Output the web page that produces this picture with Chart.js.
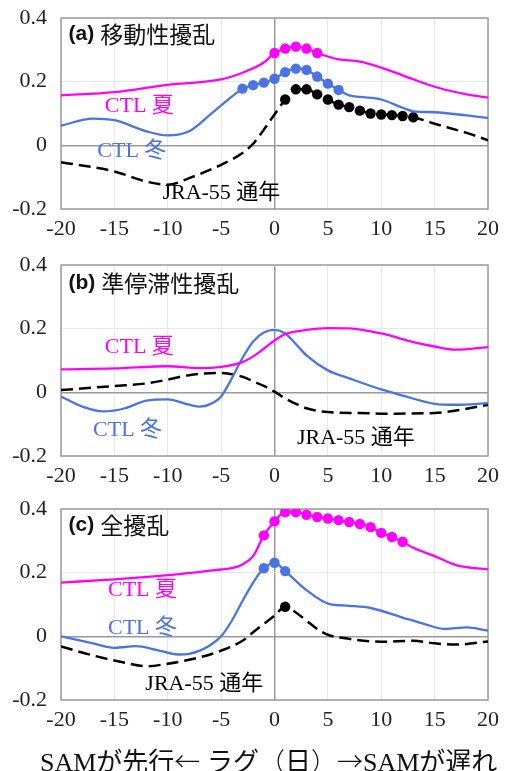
<!DOCTYPE html>
<html>
<head>
<meta charset="utf-8">
<script src="https://cdn.jsdelivr.net/npm/chart.js@4/dist/chart.umd.min.js"></script>
<style>
  body { margin: 0; background: #fff; width: 505px; height: 771px; position: relative; overflow: hidden; }
  canvas { position: absolute; left: 0; }
  #xlabel {
    position: absolute; left: 40px; top: 744px;
    font-family: 'Liberation Serif', 'Noto Sans CJK JP', serif;
    font-size: 26px; color: #111; white-space: pre; line-height: 32px;
  }
  #xlabel .cjk { font-family: 'Noto Sans CJK JP', sans-serif; font-weight: 300; }
</style>
</head>
<body>
<canvas id="panelA" width="505" height="250" style="top:0px"></canvas>
<canvas id="panelB" width="505" height="250" style="top:247px"></canvas>
<canvas id="panelC" width="505" height="250" style="top:491px"></canvas>
<div id="xlabel">SAMが先行<span class="cjk">←</span> ラグ<span class="cjk">（</span>日<span class="cjk">）</span><span class="cjk">→</span>SAMが遅れ</div>
<script>
// (a) 移動性擾乱
const aLagSummer = [-20, -15, -10, -5, -3, -1, 0, 1, 2, 3, 4, 5, 6, 8, 10, 12, 15, 18, 20];
const aSummer = [0.157, 0.167, 0.19, 0.207, 0.228, 0.26, 0.29, 0.304, 0.31, 0.304, 0.29, 0.279, 0.27, 0.263, 0.244, 0.22, 0.184, 0.16, 0.15];
const aSigSummer = [0, 1, 2, 3, 4];
const aLagWinter = [-20, -17, -15, -12, -10, -8, -6, -4, -3, -2, -1, 0, 1, 2, 3, 4, 5, 6, 7, 8, 10, 12, 13, 15, 18, 20];
const aWinter = [0.062, 0.084, 0.079, 0.044, 0.031, 0.044, 0.097, 0.153, 0.178, 0.189, 0.197, 0.209, 0.23, 0.241, 0.237, 0.216, 0.194, 0.174, 0.157, 0.152, 0.144, 0.118, 0.107, 0.104, 0.094, 0.086];
const aSigWinter = [-3, -2, -1, 0, 1, 2, 3, 4, 5, 6];
const aLagJra = [-20, -15, -12, -10, -8, -5, -3, -2, -1, 0, 1, 2, 3, 4, 5, 6, 7, 8, 9, 10, 11, 12, 13, 15, 18, 20];
const aJra = [-0.053, -0.082, -0.114, -0.124, -0.103, -0.061, -0.024, 0.005, 0.049, 0.097, 0.144, 0.176, 0.176, 0.16, 0.144, 0.128, 0.12, 0.109, 0.1, 0.097, 0.095, 0.092, 0.088, 0.068, 0.039, 0.016];
const aSigJra = [1, 2, 3, 4, 5, 6, 7, 8, 9, 10, 11, 12, 13];

// (b) 準停滞性擾乱
const bLagSummer = [-20, -15, -10, -7, -5, -3, -2, -1, 0, 1, 3, 5, 7, 10, 13, 15, 17, 20];
const bSummer = [0.072, 0.075, 0.082, 0.076, 0.08, 0.095, 0.113, 0.137, 0.163, 0.183, 0.196, 0.202, 0.201, 0.185, 0.158, 0.144, 0.134, 0.142];
const bLagWinter = [-20, -18, -16, -14, -12, -10, -8, -7, -6, -5, -4, -3, -2, -1, 0, 1, 2, 3, 5, 7, 10, 12, 15, 17, 20];
const bWinter = [-0.013, -0.045, -0.06, -0.05, -0.026, -0.022, -0.039, -0.045, -0.037, -0.013, 0.044, 0.108, 0.16, 0.188, 0.196, 0.185, 0.152, 0.116, 0.069, 0.044, 0.009, -0.01, -0.036, -0.039, -0.034];
const bLagJra = [-20, -15, -12, -10, -8, -5, -3, -2, -1, 0, 1, 2, 3, 5, 8, 10, 15, 17, 20];
const bJra = [0.007, 0.02, 0.028, 0.04, 0.054, 0.061, 0.049, 0.035, 0.02, 0.002, -0.019, -0.036, -0.05, -0.062, -0.065, -0.067, -0.065, -0.057, -0.039];

// (c) 全擾乱
const cLagSummer = [-20, -15, -10, -5, -4, -3, -2, -1, 0, 1, 2, 3, 4, 5, 6, 7, 8, 9, 10, 11, 12, 13, 15, 17, 20];
const cSummer = [0.169, 0.179, 0.192, 0.21, 0.214, 0.226, 0.252, 0.317, 0.361, 0.39, 0.39, 0.382, 0.375, 0.37, 0.365, 0.359, 0.353, 0.343, 0.325, 0.312, 0.297, 0.278, 0.252, 0.224, 0.21];
const cSigSummer = [-1, 0, 1, 2, 3, 4, 5, 6, 7, 8, 9, 10, 11, 12];
const cLagWinter = [-20, -17, -15, -13, -11, -9, -8, -7, -6, -5, -4, -3, -2, -1, 0, 1, 2, 3, 5, 7, 9, 12, 14, 16, 18, 20];
const cWinter = [0, -0.022, -0.036, -0.031, -0.043, -0.057, -0.055, -0.045, -0.027, 0, 0.049, 0.111, 0.169, 0.214, 0.231, 0.205, 0.174, 0.145, 0.103, 0.096, 0.089, 0.059, 0.039, 0.023, 0.028, 0.018];
const cSigWinter = [-1, 0, 1];
const cLagJra = [-20, -17, -14, -12, -10, -7, -5, -3, -2, -1, 0, 1, 2, 3, 4, 5, 7, 10, 13, 15, 17, 20];
const cJra = [-0.032, -0.06, -0.083, -0.094, -0.086, -0.066, -0.045, -0.014, 0.013, 0.039, 0.065, 0.093, 0.075, 0.049, 0.023, 0.005, -0.008, -0.017, -0.014, -0.022, -0.026, -0.016];
const cSigJra = [1];

const xTicks = [-20, -15, -10, -5, 0, 5, 10, 15, 20];
const yTicks = [-0.2, 0, 0.2, 0.4];

const MAGENTA = '#ff00ff';
const BLUE = '#4a74e6';
const BLACK = '#000000';
const SERIF = "'Liberation Serif', 'Noto Sans CJK JP', serif";

function series(lags, vals, color, sig, dashed) {
    return {
        data: lags.map((x, i) => ({ x: x, y: vals[i] })),
        borderColor: color,
        backgroundColor: color,
        borderWidth: dashed ? 2.5 : 2.3,
        borderDash: dashed ? [12, 6] : [],
        cubicInterpolationMode: 'monotone',
        pointRadius: ctx => (sig && ctx.raw && sig.includes(ctx.raw.x)) ? 5.2 : 0,
        pointBorderWidth: 0,
        pointHoverRadius: 0
    };
}

// frame + free text labels inside each panel
const panelLabels = {
    id: 'panelLabels',
    beforeDatasetsDraw(chart) {
        const a = chart.chartArea, c = chart.ctx;
        c.save();
        c.strokeStyle = '#9a9a9a';
        c.lineWidth = 1.5;
        c.strokeRect(a.left, a.top, a.right - a.left, a.bottom - a.top);
        c.restore();
    },
    afterDatasetsDraw(chart) {
        const opts = chart.options.plugins.panelLabels;
        const c = chart.ctx;
        const xs = chart.scales.x, ys = chart.scales.y;
        c.save();
        c.textBaseline = 'middle';
        c.textAlign = 'left';
        const t = opts.title;
        let px = xs.getPixelForValue(t.lag), py = ys.getPixelForValue(t.val);
        c.fillStyle = '#111';
        c.font = "bold 21px 'Liberation Sans', Arial, sans-serif";
        c.fillText(t.tag, px, py);
        px += c.measureText(t.tag).width + 6;
        c.font = "23px 'Noto Sans CJK JP', sans-serif";
        c.fillText(t.text, px, py);
        opts.items.forEach(it => {
            c.fillStyle = it.color;
            c.font = '22px ' + SERIF;
            c.fillText(it.text, xs.getPixelForValue(it.lag), ys.getPixelForValue(it.val));
        });
        c.restore();
    }
};

function makePanel(id, datasets, title, items) {
    new Chart(document.getElementById(id).getContext('2d'), {
        type: 'line',
        data: { datasets: datasets },
        plugins: [panelLabels],
        options: {
            responsive: false,
            animation: false,
            layout: { padding: { top: 18, right: 17, left: 0, bottom: 0 } },
            plugins: {
                legend: { display: false },
                tooltip: { enabled: false },
                panelLabels: { title: title, items: items }
            },
            scales: {
                x: {
                    type: 'linear',
                    min: -20, max: 20,
                    afterFit: s => { s.height = 41; s.paddingLeft = 0; s.paddingRight = 0; },
                    afterBuildTicks: s => { s.ticks = xTicks.map(v => ({ value: v })); },
                    border: { display: false },
                    grid: {
                        drawTicks: false,
                        color: ctx => (ctx.tick && ctx.tick.value === 0) ? '#9a9a9a' : '#e8e8e8',
                        lineWidth: ctx => (ctx.tick && ctx.tick.value === 0) ? 1.5 : 1
                    },
                    ticks: {
                        padding: 7,
                        color: '#222',
                        font: { family: SERIF, size: 22 },
                        callback: v => String(v)
                    }
                },
                y: {
                    min: -0.2, max: 0.4,
                    afterFit: s => { s.width = 61; s.paddingTop = 0; s.paddingBottom = 0; },
                    afterBuildTicks: s => { s.ticks = yTicks.map(v => ({ value: v })); },
                    border: { display: false },
                    grid: {
                        drawTicks: false,
                        color: ctx => (ctx.tick && Math.abs(ctx.tick.value) < 1e-9) ? '#9a9a9a' : '#e8e8e8',
                        lineWidth: ctx => (ctx.tick && Math.abs(ctx.tick.value) < 1e-9) ? 1.5 : 1
                    },
                    ticks: {
                        padding: 14,
                        color: '#222',
                        font: { family: SERIF, size: 22 },
                        callback: v => String(Math.round(v * 10) / 10)
                    }
                }
            }
        }
    });
}

makePanel('panelA', [
    series(aLagSummer, aSummer, MAGENTA, aSigSummer, false),
    series(aLagWinter, aWinter, BLUE, aSigWinter, false),
    series(aLagJra, aJra, BLACK, aSigJra, true)
], { tag: '(a)', text: '移動性擾乱', lag: -19.3, val: 0.348 }, [
    { text: 'CTL 夏', color: MAGENTA, lag: -15.9, val: 0.122 },
    { text: 'CTL 冬', color: BLUE, lag: -16.6, val: -0.02 },
    { text: 'JRA-55 通年', color: BLACK, lag: -10.5, val: -0.149 }
]);

makePanel('panelB', [
    series(bLagSummer, bSummer, MAGENTA, null, false),
    series(bLagWinter, bWinter, BLUE, null, false),
    series(bLagJra, bJra, BLACK, null, true)
], { tag: '(b)', text: '準停滞性擾乱', lag: -19.3, val: 0.344 }, [
    { text: 'CTL 夏', color: MAGENTA, lag: -15.9, val: 0.143 },
    { text: 'CTL 冬', color: BLUE, lag: -17.0, val: -0.118 },
    { text: 'JRA-55 通年', color: BLACK, lag: 2.1, val: -0.143 }
]);

makePanel('panelC', [
    series(cLagSummer, cSummer, MAGENTA, cSigSummer, false),
    series(cLagWinter, cWinter, BLUE, cSigWinter, false),
    series(cLagJra, cJra, BLACK, cSigJra, true)
], { tag: '(c)', text: '全擾乱', lag: -19.3, val: 0.348 }, [
    { text: 'CTL 夏', color: MAGENTA, lag: -15.6, val: 0.144 },
    { text: 'CTL 冬', color: BLUE, lag: -15.6, val: 0.027 },
    { text: 'JRA-55 通年', color: BLACK, lag: -12.1, val: -0.149 }
]);
</script>
</body>
</html>
